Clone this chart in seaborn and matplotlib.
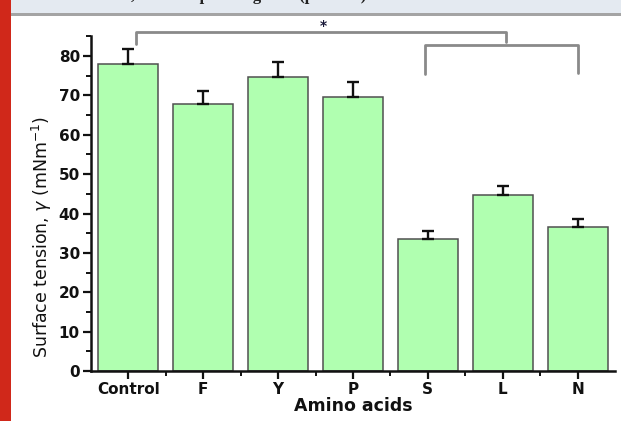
import matplotlib
matplotlib.use("Agg")
import matplotlib.pyplot as plt
import seaborn as sns
import pandas as pd
import numpy as np
from matplotlib.patches import Rectangle
from matplotlib.ticker import MultipleLocator, FixedLocator

# ---- data ----
categories = ["Control", "F", "Y", "P", "S", "L", "N"]
tension = [77.9, 67.8, 74.7, 69.6, 33.6, 44.8, 36.5]
errors = [3.9, 3.4, 3.9, 3.7, 1.9, 2.3, 2.2]
# significance brackets: (x_left, x_right, y_top, y_left_end, y_right_end)
bracket_main = [0.1, 5.05, 86.1, 83.1, 83.6]
bracket_sub = [3.96, 6.0, 82.9, 75.4, 75.8]
star_pos = [2.6, 87.6]
header_text = ", and compared against (p < 0.05)"

df = pd.DataFrame({"Amino acids": categories, "tension": tension})

sns.set_style("ticks")
plt.rcParams["font.family"] = ["DejaVu Sans"]

W, H = 621, 421
fig = plt.figure(figsize=(W / 100, H / 100), dpi=100)
fig.patch.set_facecolor("white")

ax = fig.add_axes([91 / W, 1 - 371 / H, (615 - 91) / W, (371 - 36.4) / H])

sns.barplot(data=df, x="Amino acids", y="tension", ax=ax, color="#b0ffb0",
            edgecolor="#505050", linewidth=1.1, width=0.8, saturation=1,
            errorbar=None, zorder=2)

x = np.arange(len(categories))
ax.errorbar(x, tension, yerr=[np.zeros(len(errors)), errors], fmt="none",
            ecolor="#111111", elinewidth=1.7, capsize=4, capthick=1.7, zorder=3)

ax.set_xlim(-0.5, 6.5)
ax.set_ylim(0, 85)
ax.yaxis.set_major_locator(MultipleLocator(10))
ax.yaxis.set_minor_locator(MultipleLocator(5))
ax.xaxis.set_minor_locator(FixedLocator(np.arange(0.5, 6.5, 1)))

for s in ["top", "right"]:
    ax.spines[s].set_visible(False)
for s in ["left", "bottom"]:
    ax.spines[s].set_linewidth(1.8)
    ax.spines[s].set_color("#111111")

ax.tick_params(axis="both", which="major", direction="out", length=6, width=1.6,
               color="#111111", labelsize=11, pad=2)
ax.tick_params(axis="both", which="minor", direction="out", length=3.5, width=1.4,
               color="#111111")
for lab in ax.get_xticklabels() + ax.get_yticklabels():
    lab.set_fontweight("bold")
    lab.set_color("#111111")

ax.set_ylabel("")
ax.set_xlabel("Amino acids", fontsize=12.5, fontweight="bold", color="#111111",
              labelpad=0)

fig.text(41.5 / W, 1 - 237 / H, r"Surface tension, $\gamma$ (mNm$^{-1}$)",
         rotation=90, ha="center", va="center", fontsize=12.5, color="#111111")

# brackets
bc = "#8a8a8a"
xl, xr, yt, yle, yre = bracket_main
ax.plot([xl, xl, xr, xr], [yle, yt, yt, yre], color=bc, lw=2, clip_on=False,
        solid_joinstyle="round", zorder=4)
xl, xr, yt, yle, yre = bracket_sub
ax.plot([xl, xl, xr, xr], [yle, yt, yt, yre], color=bc, lw=2, clip_on=False,
        solid_joinstyle="round", zorder=4)
ax.text(star_pos[0], star_pos[1], "*", ha="center", va="center", fontsize=10,
        fontweight="bold", color="#1a1a3a", clip_on=False)

# header band and left red bar
fig.patches.append(Rectangle((0, 1 - 13 / H), 1, 13 / H, transform=fig.transFigure,
                             facecolor="#e4eaf1", edgecolor="none", zorder=0))
fig.patches.append(Rectangle((0, 1 - 16 / H), 1, 3 / H, transform=fig.transFigure,
                             facecolor="#a4a4a4", edgecolor="none", zorder=0))
fig.patches.append(Rectangle((0, 0), 11 / W, 1, transform=fig.transFigure,
                             facecolor="#d0281a", edgecolor="none", zorder=1))
fig.text(131 / W, 1 + 0.5 / H, header_text, ha="left", va="baseline",
         fontsize=12, fontweight="bold", family=["Liberation Serif", "DejaVu Serif"],
         color="#222222")

fig.savefig("out.png", dpi=100)
